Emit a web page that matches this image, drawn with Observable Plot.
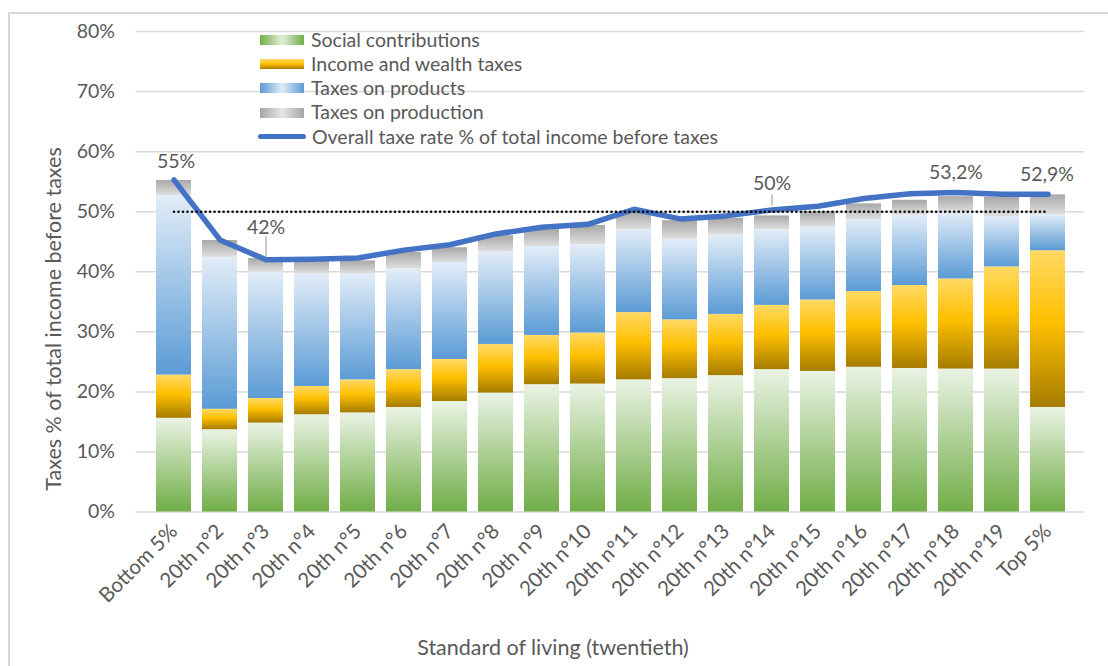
<!DOCTYPE html>
<html>
<head>
<meta charset="utf-8">
<script src="https://cdn.jsdelivr.net/npm/d3@7"></script>
<script src="https://cdn.jsdelivr.net/npm/@observablehq/plot@0.6"></script>
<style>
  body { margin: 0; background: #fff; font-family: Lato, "Open Sans", sans-serif; }
  #wrap { position: relative; width: 1108px; height: 666px; overflow: hidden; background: #fff; }
  #wrap svg { position: absolute; left: 0; top: 0; }
  #frame { position: absolute; left: 8px; top: 12px; width: 1200px; height: 800px; border: 2px solid #d9d9d9; pointer-events: none; }
  .legend { position: absolute; left: 257px; top: 27.5px; color: #595959; font-size: 19.5px; line-height: 24.3px; }
  .legend .row { display: flex; align-items: center; height: 24.3px; white-space: nowrap; }
  .legend .sw { width: 44px; height: 10px; margin: 0 7px 0 3px; }
  .legend .ln { width: 48px; height: 5px; border-radius: 3px; margin: 0 6px 0 1px; }
  .ytitle { position: absolute; left: 53px; top: 319px; transform: translate(-50%, -50%) rotate(-90deg); font-size: 21.5px; color: #595959; white-space: nowrap; }
  .xtitle { position: absolute; left: 553px; top: 647px; transform: translate(-50%, -50%); font-size: 21.5px; color: #595959; white-space: nowrap; }
</style>
</head>
<body>
<div id="wrap"></div>
<script>
// ---------- data ----------
const categories = ["Bottom 5%", "20th n°2", "20th n°3", "20th n°4", "20th n°5", "20th n°6", "20th n°7",
  "20th n°8", "20th n°9", "20th n°10", "20th n°11", "20th n°12", "20th n°13", "20th n°14", "20th n°15",
  "20th n°16", "20th n°17", "20th n°18", "20th n°19", "Top 5%"];
const seriesNames = ["Social contributions", "Income and wealth taxes", "Taxes on products", "Taxes on production"];
const socialContributions = [15.6, 13.7, 14.8, 16.2, 16.5, 17.4, 18.4, 19.8, 21.2, 21.3, 22.0, 22.2, 22.7, 23.7, 23.4, 24.1, 23.9, 23.8, 23.8, 17.4];
const incomeWealthTaxes   = [7.2, 3.4, 4.1, 4.7, 5.5, 6.3, 7.0, 8.1, 8.2, 8.5, 11.2, 9.8, 10.2, 10.7, 11.9, 12.6, 13.8, 15.0, 17.0, 26.1];
const taxesOnProducts     = [29.9, 25.3, 21.1, 18.7, 17.6, 16.8, 16.1, 15.4, 14.8, 14.7, 13.8, 13.4, 13.2, 12.6, 12.1, 12.0, 11.7, 11.1, 8.4, 6.0];
const taxesOnProduction   = [2.5, 2.8, 2.2, 2.2, 2.2, 2.7, 2.5, 2.7, 2.8, 3.2, 2.9, 3.1, 2.8, 2.3, 2.6, 2.6, 2.5, 2.6, 3.2, 3.3];
const overallRate = [55.3, 45.3, 42.0, 42.1, 42.3, 43.6, 44.5, 46.3, 47.4, 47.9, 50.4, 48.8, 49.3, 50.3, 50.9, 52.2, 53.0, 53.2, 52.9, 52.9];
const lineName = "Overall taxe rate % of total income before taxes";
const referenceRate = 50;
const yTicks = [0, 10, 20, 30, 40, 50, 60, 70, 80];
const pointLabelCats = ["Bottom 5%", "20th n°3", "20th n°14", "20th n°18", "Top 5%"];
const pointLabelTexts = ["55%", "42%", "50%", "53,2%", "52,9%"];
const xTitle = "Standard of living (twentieth)";
const yTitle = "Taxes % of total income before taxes";

// ---------- styles ----------
const gradients = [
  {id: "g-social", stops: [[0, "#eaf3e4"], [1, "#70ad47"]]},
  {id: "g-income", stops: [[0, "#ffd966"], [0.45, "#ffc000"], [1, "#a67c00"]]},
  {id: "g-products", stops: [[0, "#e2edf8"], [1, "#5b9bd5"]]},
  {id: "g-production", stops: [[0, "#a8a8a8"], [1, "#dedede"]]}
];
const swatchCss = [
  "linear-gradient(to right, #70ad47, #e2efda 50%, #70ad47)",
  "linear-gradient(to bottom, #ffd966, #ffc000 50%, #a67c00)",
  "linear-gradient(to right, #5b9bd5, #deebf7 50%, #5b9bd5)",
  "linear-gradient(to right, #a5a5a5, #e6e6e6 50%, #a5a5a5)"
];
const labelStyle = {
  "Bottom 5%": {dx: 2, dy: -18},
  "20th n°3": {dx: 0, dy: -32, leader: [-23, 2]},
  "20th n°14": {dx: 0, dy: -26, leader: [-15, 4]},
  "20th n°18": {dx: 0, dy: -20},
  "Top 5%": {dx: -1, dy: -20}
};

// ---------- tables ----------
const seriesValues = [socialContributions, incomeWealthTaxes, taxesOnProducts, taxesOnProduction];
const stacked = categories.flatMap((c, i) => seriesNames.map((s, k) => ({category: c, series: s, value: seriesValues[k][i]})));
const lineData = categories.map((c, i) => ({category: c, rate: overallRate[i]}));
const labelData = pointLabelCats.map((c, j) => ({category: c, text: pointLabelTexts[j], rate: overallRate[categories.indexOf(c)]}));

const labelMarks = labelData.flatMap(d => {
  const st = labelStyle[d.category];
  const m = [Plot.text([d], {x: "category", y: "rate", text: "text", dx: st.dx, dy: st.dy, fill: "#595959", fontSize: 19.5})];
  if (st.leader) {
    m.unshift(Plot.ruleX([d], {x: "category", y1: "rate", y2: "rate", insetTop: st.leader[0], insetBottom: st.leader[1], stroke: "#a6a6a6", strokeWidth: 1.2}));
  }
  return m;
});

const chart = Plot.plot({
  width: 1108,
  height: 666,
  marginLeft: 135.5,
  marginRight: 23.8,
  marginTop: 31,
  marginBottom: 154.5,
  style: {fontFamily: "Lato, 'Open Sans', sans-serif", fontSize: "19.5px", color: "#595959", background: "transparent"},
  x: {domain: categories, padding: 0.25, label: null},
  y: {domain: [0, 80], label: null},
  color: {domain: seriesNames, range: gradients.map(g => `url(#${g.id})`)},
  marks: [
    Plot.gridY(yTicks, {stroke: "#d9d9d9", strokeOpacity: 1, strokeWidth: 1.5}),
    Plot.axisY(yTicks, {tickSize: 0, tickPadding: 21, tickFormat: d => d + "%", fontSize: 19.5, label: null}),
    Plot.axisX({tickSize: 0, tickPadding: 16, tickRotate: -45, fontSize: 20.5, label: null}),
    Plot.barY(stacked, {x: "category", y: "value", fill: "series"}),
    Plot.lineY(lineData, {x: "category", y: "rate", stroke: "#4472c4", strokeWidth: 5.5, strokeLinecap: "round", strokeLinejoin: "round"}),
    Plot.lineY(categories, {x: d => d, y: () => referenceRate, stroke: "#000", strokeWidth: 2.6, strokeLinecap: "round", strokeDasharray: "0.01,4.5"}),
    ...labelMarks
  ]
});

// gradient defs
const defs = d3.select(chart).insert("defs", ":first-child");
gradients.forEach(g => {
  const lg = defs.append("linearGradient").attr("id", g.id).attr("x1", 0).attr("y1", 0).attr("x2", 0).attr("y2", 1);
  g.stops.forEach(([o, c]) => lg.append("stop").attr("offset", o).attr("stop-color", c));
});

const wrap = document.getElementById("wrap");
wrap.appendChild(chart);

// legend
const legend = document.createElement("div");
legend.className = "legend";
seriesNames.forEach((s, k) => {
  const row = document.createElement("div");
  row.className = "row";
  const sw = document.createElement("div");
  sw.className = "sw";
  sw.style.background = swatchCss[k];
  const t = document.createElement("span");
  t.textContent = s;
  row.appendChild(sw); row.appendChild(t);
  legend.appendChild(row);
});
{
  const row = document.createElement("div");
  row.className = "row";
  const ln = document.createElement("div");
  ln.className = "ln";
  ln.style.background = "#4472c4";
  const t = document.createElement("span");
  t.textContent = lineName;
  row.appendChild(ln); row.appendChild(t);
  legend.appendChild(row);
}
wrap.appendChild(legend);

const yt = document.createElement("div"); yt.className = "ytitle"; yt.textContent = yTitle; wrap.appendChild(yt);
const xt = document.createElement("div"); xt.className = "xtitle"; xt.textContent = xTitle; wrap.appendChild(xt);
const frame = document.createElement("div"); frame.id = "frame"; wrap.appendChild(frame);
</script>
</body>
</html>
